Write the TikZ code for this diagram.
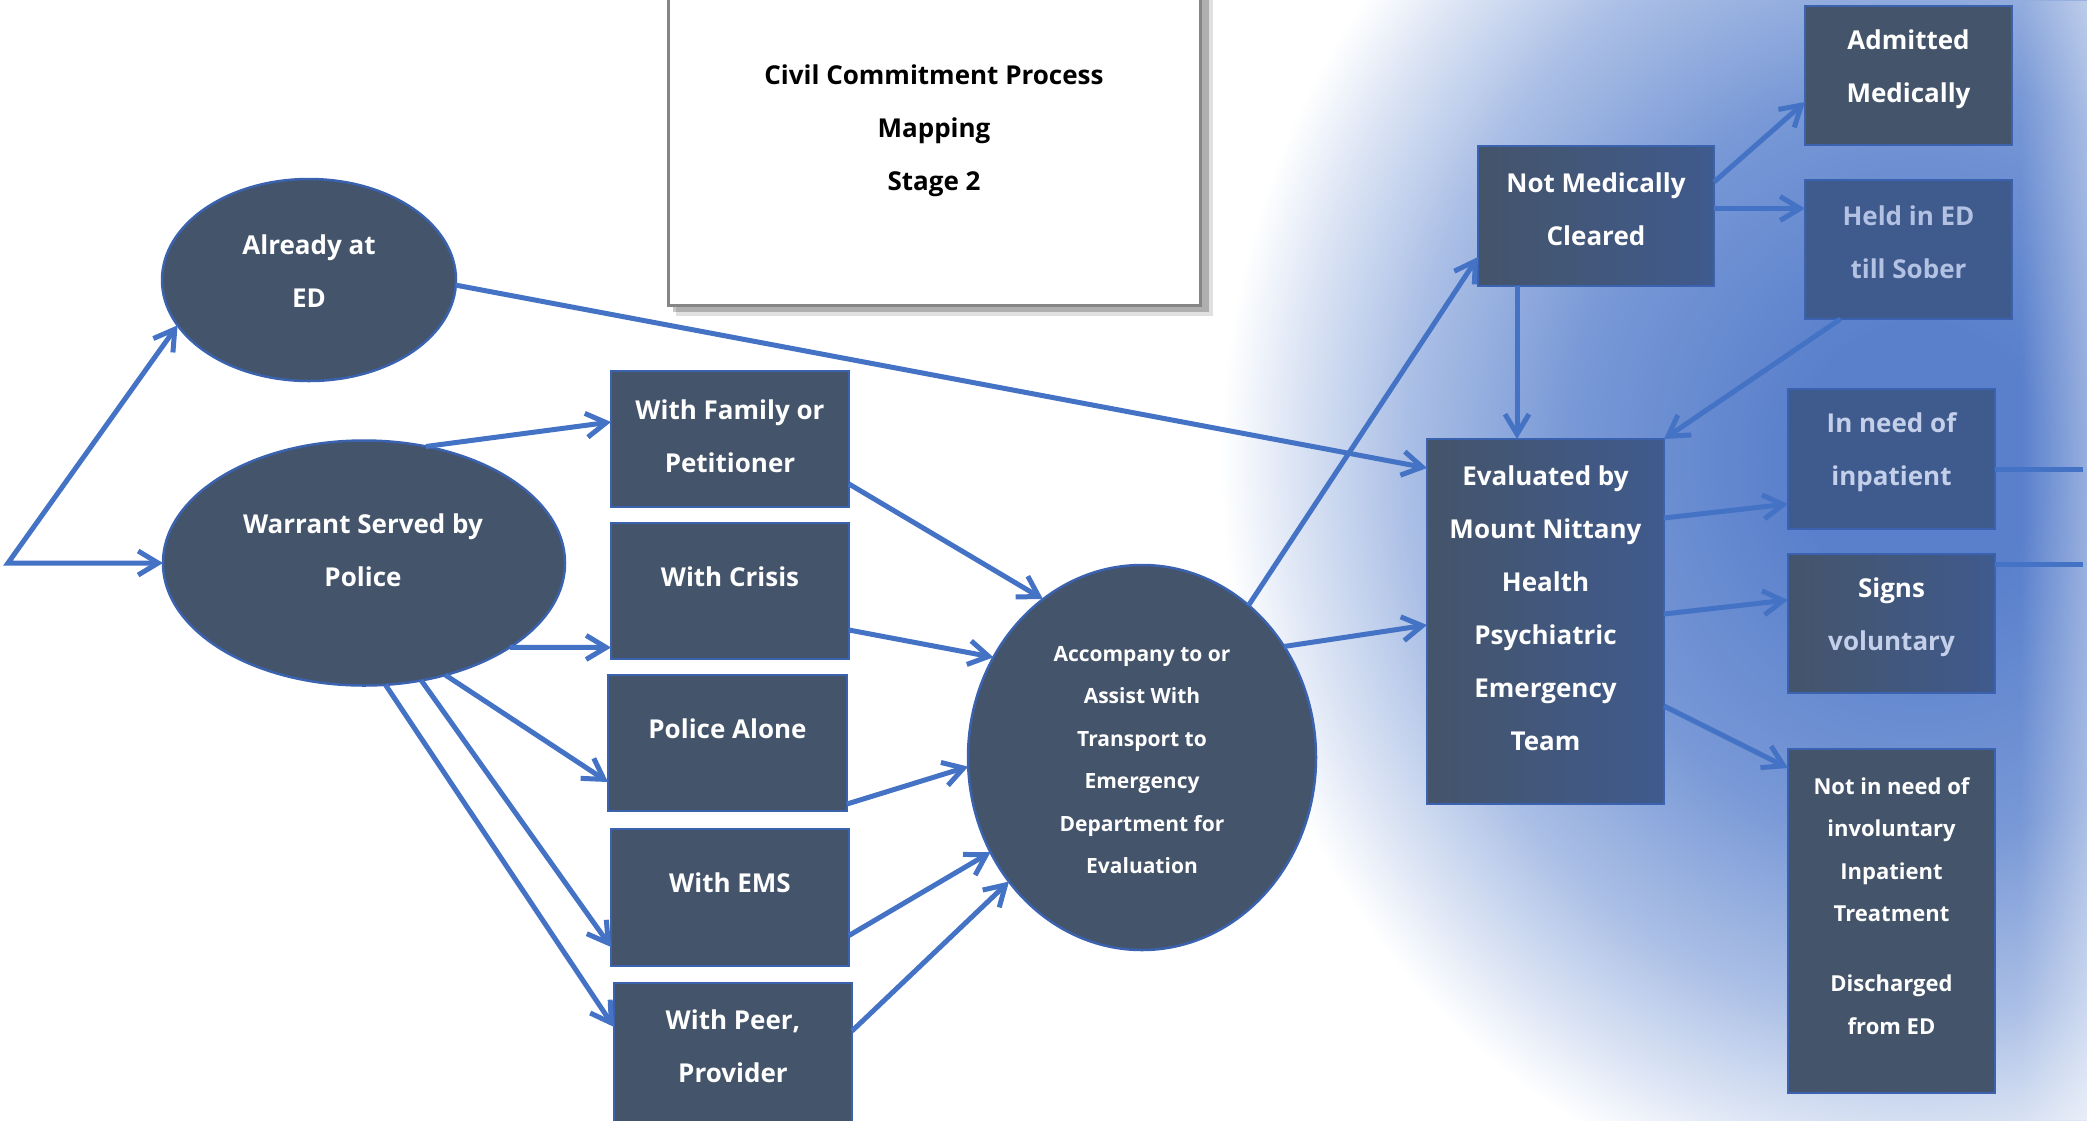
\documentclass[tikz,border=0pt]{standalone}
\usepackage{fontspec}
\setmainfont{Open Sans}
\usetikzlibrary{arrows.meta,shapes.geometric,calc,fadings}

\definecolor{nodefill}{HTML}{44546A}
\definecolor{nodeblue}{HTML}{3F5A8D}
\definecolor{nodeedge}{HTML}{3A62AE}
\definecolor{linkblue}{HTML}{4472C4}
\definecolor{softtext}{HTML}{B3C2E2}
\definecolor{paletext}{HTML}{C4D0EA}
\definecolor{framegray}{HTML}{858585}
\definecolor{gcore}{HTML}{5A80CC}
\definecolor{gmid}{HTML}{7898D6}
\definecolor{glight}{HTML}{ACC0E6}
\definecolor{gpale}{HTML}{DEE6F5}

% soft blue glow behind the right half of the chart
% (the inner 50bp square of a shading is what gets fitted to the path)
\pgfdeclareradialshading{blueglow}{\pgfpoint{0bp}{0bp}}{%
  color(0bp)=(gcore); color(4.5bp)=(gcore); color(12.5bp)=(gmid);
  color(18.5bp)=(glight); color(22.5bp)=(gpale); color(25bp)=(white);
  color(50bp)=(white)}

\begin{document}
\begin{tikzpicture}[x=1pt, y=-1pt,
  every node/.style={inner sep=0pt, outer sep=0pt},
  box/.style={rectangle, fill=nodefill, draw=nodeedge, line width=2.5pt},
  oval/.style={ellipse, fill=nodefill, draw=nodeedge, line width=2.5pt},
  lbl/.style={text=white, font=\bfseries\fontsize{26}{53}\selectfont, align=center},
  small/.style={text=white, font=\bfseries\fontsize{21}{42.5}\selectfont, align=center},
  note/.style={text=white, font=\bfseries\fontsize{22}{42.5}\selectfont, align=center},
  link/.style={draw=linkblue, line width=5pt, -{Straight Barb[length=20pt,width=24pt]}},
  plain/.style={draw=linkblue, line width=5pt},
]
\useasboundingbox (0,0) rectangle (2087,1120);

\begin{scope}
  \clip (0,0) rectangle (2087,1120);
  \shade[shading=blueglow] (1920,460) ellipse [x radius=700, y radius=760];
  % the glow thins out again at the far right
  \fill[white, opacity=0.35, path fading=west] (2020,0) rectangle (2087,1120);
\end{scope}

% title card with its drop shadow
\fill[black, opacity=0.12] (676,-20) rectangle (1213,316);
\fill[black, opacity=0.22] (673,-20) rectangle (1209,312);
\node[rectangle, fill=white, draw=framegray, line width=3pt,
      minimum width=532, minimum height=326] (title) at (934,142) {};
\node[font=\bfseries\fontsize{26}{53}\selectfont, align=center] (titletext) at (934,131)
  {Civil Commitment Process\\Mapping\\Stage 2};

% entry points
\node[oval, minimum width=294, minimum height=202] (ed) at (309,280) {};
\node[lbl] (edtext) at (309,271) {Already at\\ED};
\node[oval, minimum width=402, minimum height=245] (war) at (364,563) {};
\node[lbl] (wartext) at (363,550) {Warrant Served by\\Police};

% ways of getting to the emergency department
\node[box, minimum width=238, minimum height=136] (fam) at (730,439) {};
\node[lbl] (famtext) at (730,436) {With Family or\\Petitioner};
\node[box, minimum width=238, minimum height=136] (cri) at (730,591) {};
\node[lbl] (critext) at (730,577) {With Crisis};
\node[box, minimum width=239, minimum height=136] (pol) at (727.5,743) {};
\node[lbl] (poltext) at (727.5,729) {Police Alone};
\node[box, minimum width=238, minimum height=137] (ems) at (730,897.5) {};
\node[lbl] (emstext) at (730,883) {With EMS};
\node[box, minimum width=238, minimum height=142] (peer) at (733,1054) {};
\node[lbl] (peertext) at (733,1046) {With Peer,\\Provider};

\node[oval, minimum width=348, minimum height=385] (circ) at (1142,757.5) {};
\node[small] (circtext) at (1142,760)
  {Accompany to or\\Assist With\\Transport to\\Emergency\\Department for\\Evaluation};

% evaluation and outcomes
\node[box, left color=nodefill, right color=nodeblue, minimum width=236, minimum height=140] (ncl) at (1596,216) {};
\node[lbl] (ncltext) at (1596,209) {Not Medically\\Cleared};
\node[box, minimum width=207, minimum height=139] (adm) at (1908.5,75.5) {};
\node[lbl] (admtext) at (1908.5,69) {Admitted\\Medically};
\node[box, fill=nodeblue, minimum width=207, minimum height=139] (held) at (1908.5,249.5) {};
\node[lbl, text=softtext] (heldtext) at (1908.5,242) {Held in ED\\till Sober};
\node[box, left color=nodefill, right color=nodeblue, minimum width=237, minimum height=365] (eval) at (1545.5,621.5) {};
\node[lbl] (evaltext) at (1545.5,608)
  {Evaluated by\\Mount Nittany\\Health\\Psychiatric\\Emergency\\Team};
\node[box, fill=nodeblue, minimum width=207, minimum height=140] (inneed) at (1891.5,459) {};
\node[lbl, text=paletext] (inneedtext) at (1891.5,452) {In need of\\inpatient};
\node[box, left color=nodefill, right color=nodeblue, minimum width=207, minimum height=139] (signs) at (1891.5,623.5) {};
\node[lbl] (signstext) at (1891.5,617) {Signs\\\textcolor{paletext}{voluntary}};
\node[box, minimum width=207, minimum height=344] (notin) at (1891.5,921) {};
\node[note] (notintext) at (1891.5,906)
  {Not in need of\\involuntary\\Inpatient\\Treatment\\[27.5pt]Discharged\\from ED};

% connectors
\coordinate (origin) at (8,563);
\draw[draw=linkblue, line width=5pt, line join=miter,
      {Straight Barb[length=20pt,width=24pt]}-{Straight Barb[length=20pt,width=24pt]}]
  (ed.199) -- (origin) -- (war.west);
\draw[link] (ed.358) -- ($(eval.west)+(0,-153.5)$);

\draw[link] (war.62) -- ($(fam.west)+(0,-17)$);
\draw[link] (war.330) -- ($(cri.west)+(0,56.5)$);
\draw[link] (war.306) -- ($(pol.west)+(0,39)$);
\draw[link] (war.296) -- ($(ems.west)+(0,49.5)$);
\draw[link] (war.280) -- ($(peer.west)+(0,-27)$);

\draw[link] ($(fam.east)+(0,45)$) -- (circ.122);
\draw[link] ($(cri.east)+(0,39)$) -- (circ.146);
\draw[link] ($(pol.east)+(0,61)$) -- (circ.183);
\draw[link] ($(ems.east)+(0,38)$) -- (circ.212);
\draw[link] ($(peer.east)+(0,-23)$) -- (circ.223);

\draw[link] (circ.55) -- ($(ncl.west)+(0,41)$);
\draw[link] (circ.38) -- ($(eval.west)+(0,3.5)$);

\draw[link] ($(ncl.south)+(-79,0)$) coordinate (nclfoot) -- (nclfoot |- eval.north);
\draw[link] ($(ncl.east)+(0,-34)$) -- ($(adm.west)+(0,26.5)$);
\draw[link] ($(ncl.east)+(0,-7.5)$) coordinate (nclmid) -- (nclmid -| held.west);
\draw[link] ($(held.south)+(-68,0)$) -- (eval.north east);

\draw[link] ($(eval.east)+(0,-103.5)$) -- ($(inneed.west)+(0,45)$);
\draw[link] ($(eval.east)+(0,-7.5)$) -- ($(signs.west)+(0,-23.5)$);
\draw[link] ($(eval.east)+(0,84.5)$) -- ($(notin.north west)+(0,19)$);

\coordinate (inneedend) at (2083,469);
\coordinate (signsend) at (2083,564);
\draw[plain] ($(inneed.east)+(0,10)$) -- (inneedend);
\draw[plain] ($(signs.east)+(0,-59.5)$) -- (signsend);
\end{tikzpicture}
\end{document}
